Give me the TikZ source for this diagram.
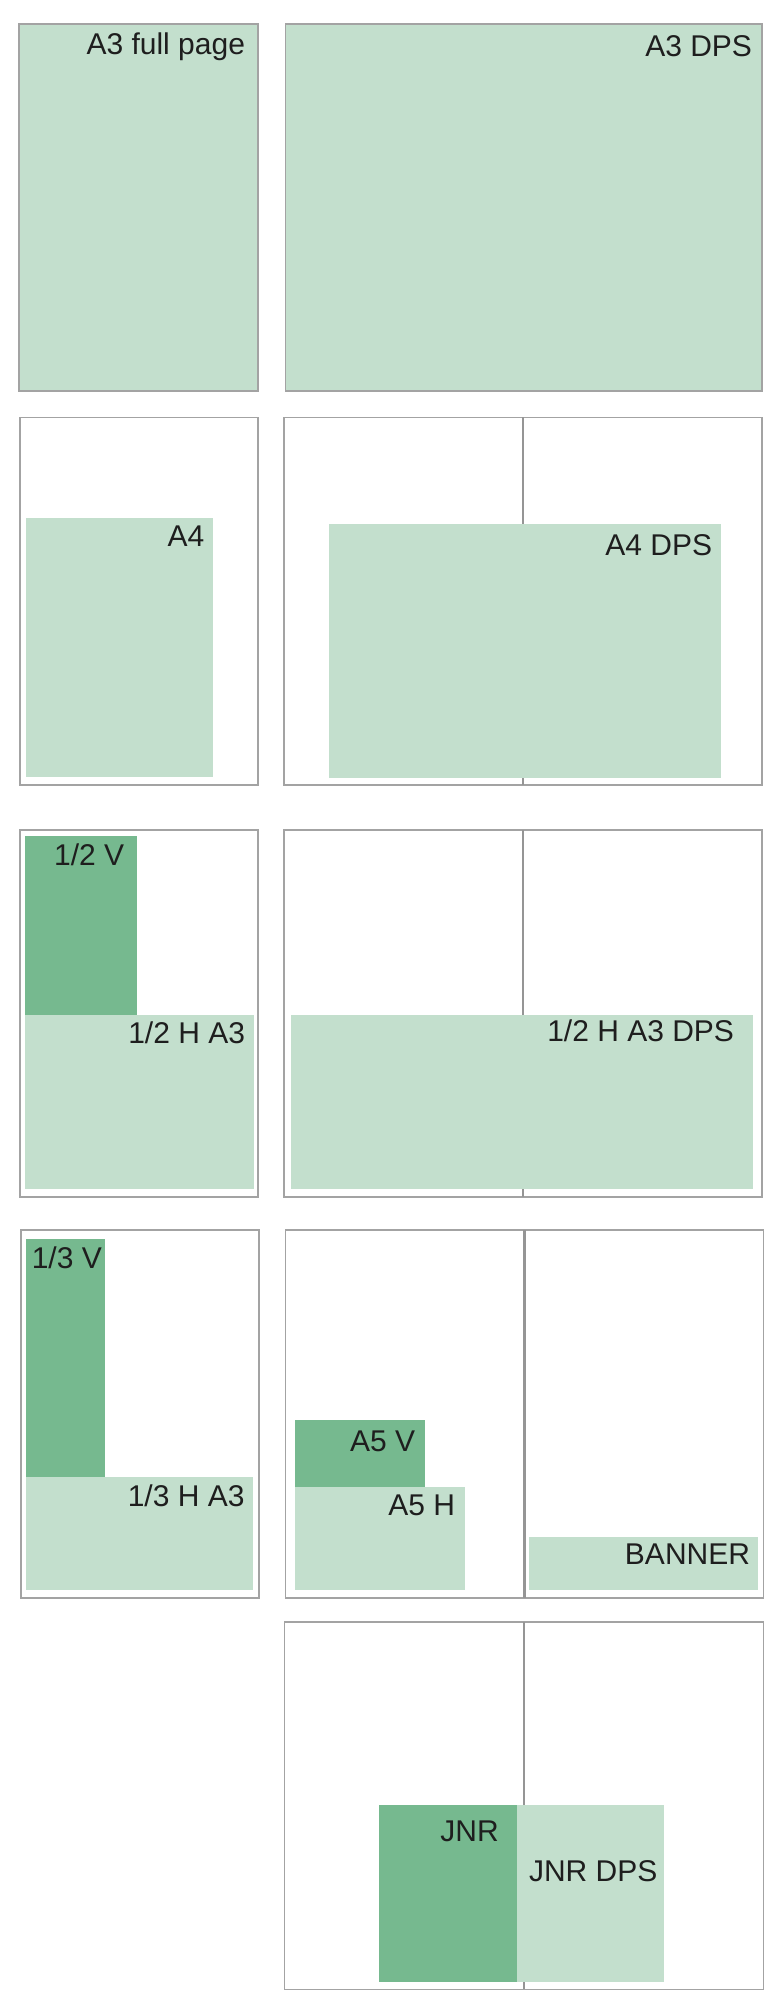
\documentclass[tikz,border=0pt]{standalone}
\usepackage{fontspec}
\setmainfont{Liberation Sans}
\usetikzlibrary{fit}
\definecolor{lightg}{HTML}{C3DFCD}
\definecolor{darkg}{HTML}{76B98F}
\definecolor{edgec}{HTML}{A3A3A3}
\definecolor{divc}{HTML}{959595}
\definecolor{txtc}{HTML}{1E1E1E}
\tikzset{
  panel/.style={draw=edgec, line width=1.6pt, fill=white, inner sep=0pt, outer sep=0pt},
  fullpanel/.style={panel, fill=lightg},
  divider/.style={draw=divc, line width=2.5pt},
  lightbox/.style={fill=lightg, inner sep=0pt, outer sep=0pt},
  darkbox/.style={fill=darkg, inner sep=0pt, outer sep=0pt},
  lbl/.style={anchor=base east, inner sep=0pt, font=\fontsize{30}{33}\selectfont, text=txtc}
}
\begin{document}
\begin{tikzpicture}[x=1pt,y=-1pt]
\useasboundingbox[fill=white] (0,0) rectangle (780,2009);

% Row 1
\node[fullpanel, fit={(18.9,23.8) (258.2,391)}] (p1l) {};
\node[fullpanel, fit={(285.5,23.8) (762.1,391)}] (p1r) {};
\node[lbl] (t1l) at (245.2,55) {A3 full page};
\node[lbl] (t1r) at (752.2,56.7) {A3 DPS};

% Row 2
\node[panel, fit={(19.9,417.3) (258.2,785)}] (p2l) {};
\node[panel, fit={(284.0,417.3) (762.1,785)}] (p2r) {};
\draw[divider] (p2r.north) -- (p2r.south);
\node[lightbox, fit={(26.4,518) (213.4,776.7)}] (a4) {};
\node[lightbox, fit={(329.3,524) (721.3,777.7)}] (a4dps) {};
\node[lbl] (ta4) at (204.5,546.7) {A4};
\node[lbl] (ta4dps) at (712.3,555.3) {A4 DPS};

% Row 3
\node[panel, fit={(19.9,830) (258.2,1197)}] (p3l) {};
\node[panel, fit={(284.0,830) (762.1,1197)}] (p3r) {};
\draw[divider] (p3r.north) -- (p3r.south);
\node[darkbox, fit={(25.4,836.3) (137.3,1015.3)}] (hv) {};
\node[lightbox, fit={(25.4,1015.3) (254.2,1189.3)}] (hh) {};
\node[lightbox, fit={(291.0,1014.7) (753.1,1189.3)}] (hhdps) {};
\node[lbl] (thv) at (124.4,865.3) {1/2 V};
\node[lbl] (thh) at (245.2,1043.3) {1/2 H A3};
\node[lbl] (thhdps) at (734.2,1041) {1/2 H A3 DPS};

% Row 4
\node[panel, fit={(20.9,1230) (259.2,1597.7)}] (p4l) {};
\node[panel, fit={(285.5,1230) (763.6,1597.7)}] (p4r) {};
\draw[divider] (p4r.north) -- (p4r.south);
\node[darkbox, fit={(26.4,1239) (105.0,1477)}] (tv) {};
\node[lightbox, fit={(26.4,1477) (253.2,1590.3)}] (th) {};
\node[darkbox, fit={(295.0,1420.3) (424.8,1487)}] (a5v) {};
\node[lightbox, fit={(295.0,1487) (465.1,1590.3)}] (a5h) {};
\node[lightbox, fit={(529.3,1537) (757.6,1590.3)}] (banner) {};
\node[lbl] (ttv) at (102.0,1268.3) {1/3 V};
\node[lbl] (tth) at (244.7,1506) {1/3 H A3};
\node[lbl] (ta5v) at (415.4,1451.7) {A5 V};
\node[lbl] (ta5h) at (455.2,1515) {A5 H};
\node[lbl] (tbanner) at (750.2,1564.3) {BANNER};

% Row 5
\node[panel, fit={(284.5,1622) (763.6,1989.3)}] (p5r) {};
\draw[divider] (p5r.north) -- (p5r.south);
\node[darkbox, fit={(378.6,1805.3) (517.4,1981.7)}] (jnr) {};
\node[lightbox, fit={(517.4,1805.3) (664.1,1981.7)}] (jnrdps) {};
\node[lbl] (tjnr) at (498.9,1841.7) {JNR};
\node[lbl] (tjnrdps) at (657.6,1881.7) {JNR DPS};
\end{tikzpicture}
\end{document}
